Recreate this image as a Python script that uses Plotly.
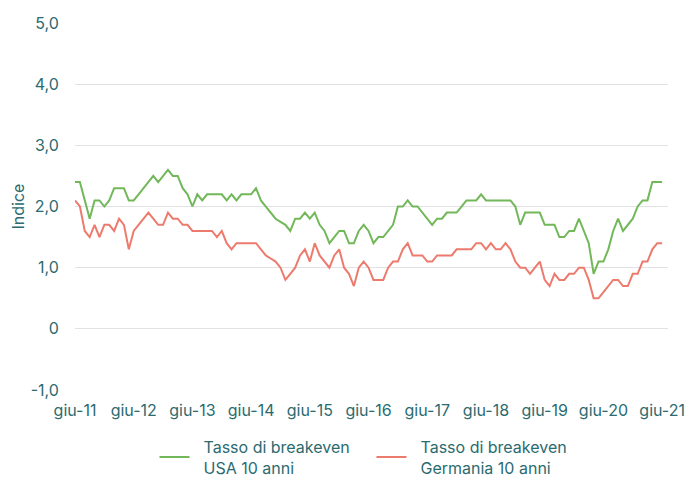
import plotly.graph_objects as go

months = list(range(121))  # monthly index from giu-11 to giu-21
tick_pos = [0, 12, 24, 36, 48, 60, 72, 84, 96, 108, 120]
tick_labels = ["giu-11", "giu-12", "giu-13", "giu-14", "giu-15", "giu-16",
               "giu-17", "giu-18", "giu-19", "giu-20", "giu-21"]

usa = [2.4, 2.4, 2.1, 1.8, 2.1, 2.1, 2.0, 2.1, 2.3, 2.3,
       2.3, 2.1, 2.1, 2.2, 2.3, 2.4, 2.5, 2.4, 2.5, 2.6,
       2.5, 2.5, 2.3, 2.2, 2.0, 2.2, 2.1, 2.2, 2.2, 2.2,
       2.2, 2.1, 2.2, 2.1, 2.2, 2.2, 2.2, 2.3, 2.1, 2.0,
       1.9, 1.8, 1.75, 1.7, 1.6, 1.8, 1.8, 1.9, 1.8, 1.9,
       1.7, 1.6, 1.4, 1.5, 1.6, 1.6, 1.4, 1.4, 1.6, 1.7,
       1.6, 1.4, 1.5, 1.5, 1.6, 1.7, 2.0, 2.0, 2.1, 2.0,
       2.0, 1.9, 1.8, 1.7, 1.8, 1.8, 1.9, 1.9, 1.9, 2.0,
       2.1, 2.1, 2.1, 2.2, 2.1, 2.1, 2.1, 2.1, 2.1, 2.1,
       2.0, 1.7, 1.9, 1.9, 1.9, 1.9, 1.7, 1.7, 1.7, 1.5,
       1.5, 1.6, 1.6, 1.8, 1.6, 1.4, 0.9, 1.1, 1.1, 1.3,
       1.6, 1.8, 1.6, 1.7, 1.8, 2.0, 2.1, 2.1, 2.4, 2.4,
       2.4]

germany = [2.1, 2.0, 1.6, 1.5, 1.7, 1.5, 1.7, 1.7, 1.6, 1.8,
           1.7, 1.3, 1.6, 1.7, 1.8, 1.9, 1.8, 1.7, 1.7, 1.9,
           1.8, 1.8, 1.7, 1.7, 1.6, 1.6, 1.6, 1.6, 1.6, 1.5,
           1.6, 1.4, 1.3, 1.4, 1.4, 1.4, 1.4, 1.4, 1.3, 1.2,
           1.15, 1.1, 1.0, 0.8, 0.9, 1.0, 1.2, 1.3, 1.1, 1.4,
           1.2, 1.1, 1.0, 1.2, 1.3, 1.0, 0.9, 0.7, 1.0, 1.1,
           1.0, 0.8, 0.8, 0.8, 1.0, 1.1, 1.1, 1.3, 1.4, 1.2,
           1.2, 1.2, 1.1, 1.1, 1.2, 1.2, 1.2, 1.2, 1.3, 1.3,
           1.3, 1.3, 1.4, 1.4, 1.3, 1.4, 1.3, 1.3, 1.4, 1.3,
           1.1, 1.0, 1.0, 0.9, 1.0, 1.1, 0.8, 0.7, 0.9, 0.8,
           0.8, 0.9, 0.9, 1.0, 1.0, 0.8, 0.5, 0.5, 0.6, 0.7,
           0.8, 0.8, 0.7, 0.7, 0.9, 0.9, 1.1, 1.1, 1.3, 1.4,
           1.4]

y_ticks = [-1, 0, 1, 2, 3, 4, 5]
y_labels = ["-1,0", "0", "1,0", "2,0", "3,0", "4,0", "5,0"]

series_names = ["&nbsp;&nbsp;Tasso di breakeven<br>&nbsp;&nbsp;USA 10 anni",
                "&nbsp;&nbsp;Tasso di breakeven<br>&nbsp;&nbsp;Germania 10 anni"]

GREEN = "#72b85a"
RED = "#ec7b6e"
TEXT = "#2b6b6f"
FONT = "Inter"

fig = go.Figure()
fig.add_trace(go.Scatter(x=months, y=usa, mode="lines", name=series_names[0],
                         line=dict(color=GREEN, width=2)))
fig.add_trace(go.Scatter(x=months, y=germany, mode="lines", name=series_names[1],
                         line=dict(color=RED, width=2)))

fig.update_layout(
    width=690, height=477,
    margin=dict(l=75, r=22, t=23, b=87, autoexpand=False),
    paper_bgcolor="white", plot_bgcolor="white",
    font=dict(family=FONT, size=16, color=TEXT),
    showlegend=True,
    legend=dict(orientation="h", x=0.5, xanchor="center", y=-0.108, yanchor="top",
                font=dict(size=16, color=TEXT), itemwidth=30, traceorder="normal",
                entrywidth=172, entrywidthmode="pixels"),
    xaxis=dict(range=[0, 121.2], tickmode="array", tickvals=tick_pos, ticktext=tick_labels,
               showgrid=False, zeroline=False, showline=False, automargin=False,
               ticklabeloverflow="allow",
               ticks="outside", ticklen=6, tickcolor="rgba(0,0,0,0)",
               tickfont=dict(size=16, color=TEXT)),
    yaxis=dict(range=[-1, 5], tickmode="array", tickvals=y_ticks, ticktext=y_labels,
               showgrid=True, gridcolor="#e2e2e6", gridwidth=1,
               zeroline=False, showline=False, automargin=False,
               ticks="outside", ticklen=12, tickcolor="rgba(0,0,0,0)",
               tickfont=dict(size=16, color=TEXT),
               title=dict(text="Indice", font=dict(size=16, color=TEXT), standoff=2)),
)

fig.write_html("out.html", config={"displayModeBar": False},
               post_script="document.body.style.margin='0';document.body.style.overflow='hidden';")
